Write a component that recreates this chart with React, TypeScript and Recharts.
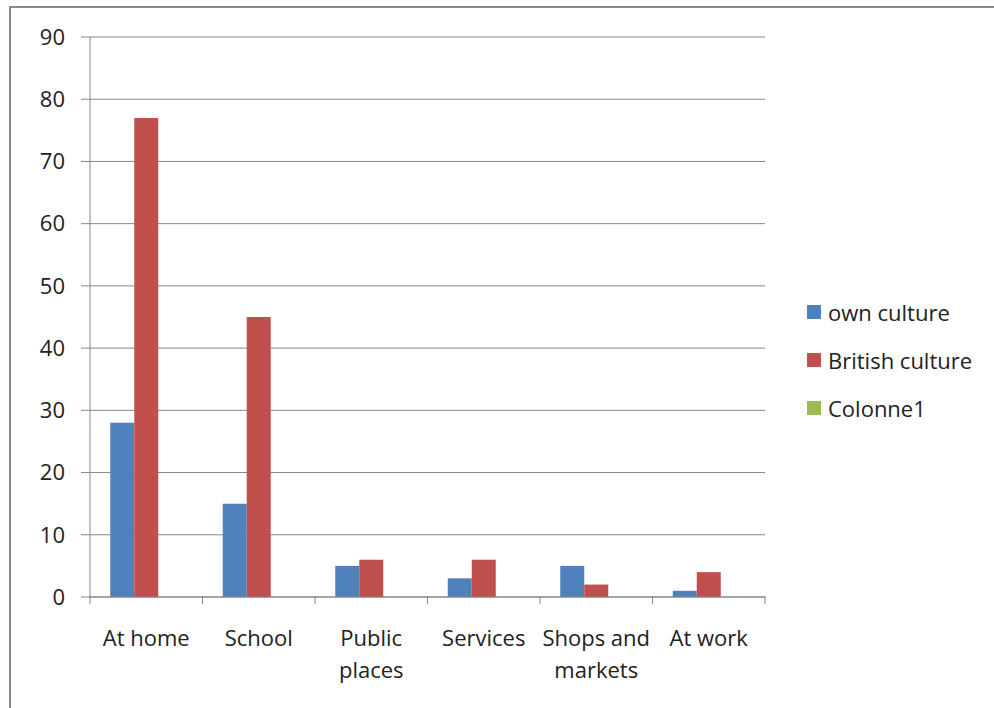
import { BarChart, Bar, XAxis, YAxis, CartesianGrid } from 'recharts';

const categories = ['At home', 'School', 'Public places', 'Services', 'Shops and markets', 'At work'];
const tickLabels = [['At home'], ['School'], ['Public', 'places'], ['Services'], ['Shops and', 'markets'], ['At work']];
const ownCulture = [28, 15, 5, 3, 5, 1];
const britishCulture = [77, 45, 6, 6, 2, 4];
const colonne1: (number | null)[] = [null, null, null, null, null, null];
const yTicks = [0, 10, 20, 30, 40, 50, 60, 70, 80, 90];

const series = [
  { key: 'own', name: 'own culture', color: '#4f81bd' },
  { key: 'british', name: 'British culture', color: '#c0504d' },
  { key: 'col1', name: 'Colonne1', color: '#9bbb59' },
];

const chartData = categories.map((name, i) => ({
  name,
  own: ownCulture[i],
  british: britishCulture[i],
  col1: colonne1[i],
}));

const FONT = '"Open Sans", "Liberation Sans", sans-serif';
const AXIS = '#868686';
const BAND = 675 / categories.length;

function CategoryTick(props: any) {
  const { x, y, payload } = props;
  const lines = tickLabels[payload.index] || [payload.value];
  return (
    <g>
      <line x1={x - BAND / 2} y1={y - 9} x2={x - BAND / 2} y2={y - 1} stroke={AXIS} />
      {payload.index === categories.length - 1 && (
        <line x1={x + BAND / 2} y1={y - 9} x2={x + BAND / 2} y2={y - 1} stroke={AXIS} />
      )}
      <text x={x} y={y + 41} textAnchor="middle" fill="#222" style={{ fontFamily: FONT, fontSize: 22 }}>
        {lines.map((l: string, i: number) => (
          <tspan key={i} x={x} dy={i === 0 ? 0 : 32}>
            {l}
          </tspan>
        ))}
      </text>
    </g>
  );
}

export default function App() {
  return (
    <div style={{ position: 'fixed', left: 0, top: 0, width: 994, height: 708, background: '#fff', overflow: 'hidden' }}>
      <div
        style={{
          position: 'absolute',
          left: 9,
          top: 6,
          width: 1000,
          height: 720,
          borderLeft: '2px solid #8a8a8a',
          borderTop: '2px solid #8a8a8a',
        }}
      />
      <div style={{ position: 'absolute', left: 0, top: 0 }}>
        <BarChart
          width={994}
          height={708}
          data={chartData}
          margin={{ top: 37, right: 229, left: 20, bottom: 31 }}
          barCategoryGap="18%"
          barGap={0}
        >
          <CartesianGrid vertical={false} stroke={AXIS} />
          <XAxis
            dataKey="name"
            interval={0}
            height={80}
            stroke={AXIS}
            tickLine={false}
            tick={<CategoryTick />}
          />
          <YAxis
            domain={[0, 90]}
            ticks={yTicks}
            width={70}
            stroke={AXIS}
            tickSize={9}
            tickMargin={16}
            tick={{ fill: '#222', fontFamily: FONT, fontSize: 22 }}
          />
          {series.map((s) => (
            <Bar key={s.key} dataKey={s.key} name={s.name} fill={s.color} isAnimationActive={false} />
          ))}
        </BarChart>
      </div>
      <div style={{ position: 'absolute', left: 807, top: 288, fontFamily: FONT, fontSize: 22, color: '#222' }}>
        {series.map((s) => (
          <div key={s.key} style={{ display: 'flex', alignItems: 'center', height: 48 }}>
            <span style={{ width: 14, height: 14, background: s.color, marginRight: 7 }} />
            <span>{s.name}</span>
          </div>
        ))}
      </div>
    </div>
  );
}
